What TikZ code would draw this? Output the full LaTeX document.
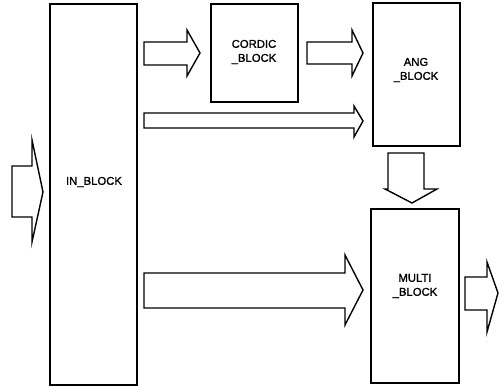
\documentclass[tikz,border=0pt]{standalone}
\usepackage{fontspec}
\setmainfont{Liberation Sans}
\newfontfamily\blkfont[FakeBold=1.2]{Liberation Sans}
\begin{document}
\begin{tikzpicture}[x=1pt,y=-1pt,
  line join=miter,
  block/.style={draw, line width=1.4pt, inner sep=0pt, rectangle},
  lbl/.style={font=\blkfont\fontsize{11.3}{14}\selectfont, align=center, inner sep=0pt},
  fat/.style={draw, line width=1.4pt, line join=miter}]
\useasboundingbox (0,0) rectangle (499,387);
% blocks
\node[block, minimum width=87pt, minimum height=381pt] (in) at (93.5,194.5) {};
\node[block, minimum width=87pt, minimum height=98pt] (cordic) at (254.5,53) {};
\node[block, minimum width=87pt, minimum height=143pt] (ang) at (416.5,74.5) {};
\node[block, minimum width=88pt, minimum height=174pt] (multi) at (415,296) {};
% labels
\node[lbl] (inlbl) at (94,182) {IN\_BLOCK};
\node[lbl] (cordiclbl) at (254,52) {CORDIC\\\_BLOCK};
\node[lbl] (anglbl) at (416,70) {ANG\\\_BLOCK};
\node[lbl] (multilbl) at (415,286) {MULTI\\\_BLOCK};
% block arrows
\draw[fat] (12,166) -- (32,166) -- (32,140) -- (43,192) -- (32,242) -- (32,217) -- (12,217) -- cycle;
\draw[fat] (144,42) -- (187,42) -- (187,30) -- (200,53) -- (187,76) -- (187,65) -- (144,65) -- cycle;
\draw[fat] (307,42) -- (352,42) -- (352,30) -- (363,53) -- (352,76) -- (352,64) -- (307,64) -- cycle;
\draw[fat] (144,113) -- (354,113) -- (354,106) -- (363,121) -- (354,137) -- (354,128) -- (144,128) -- cycle;
\draw[fat] (388,153) -- (424,153) -- (424,189) -- (437,189) -- (412,203) -- (385,189) -- (388,189) -- cycle;
\draw[fat] (144,273) -- (345,273) -- (345,255) -- (363,290) -- (345,325) -- (345,308) -- (144,308) -- cycle;
\draw[fat] (465,277) -- (487,277) -- (487,262) -- (498,293) -- (487,332) -- (487,310) -- (465,310) -- cycle;
\end{tikzpicture}
\end{document}
